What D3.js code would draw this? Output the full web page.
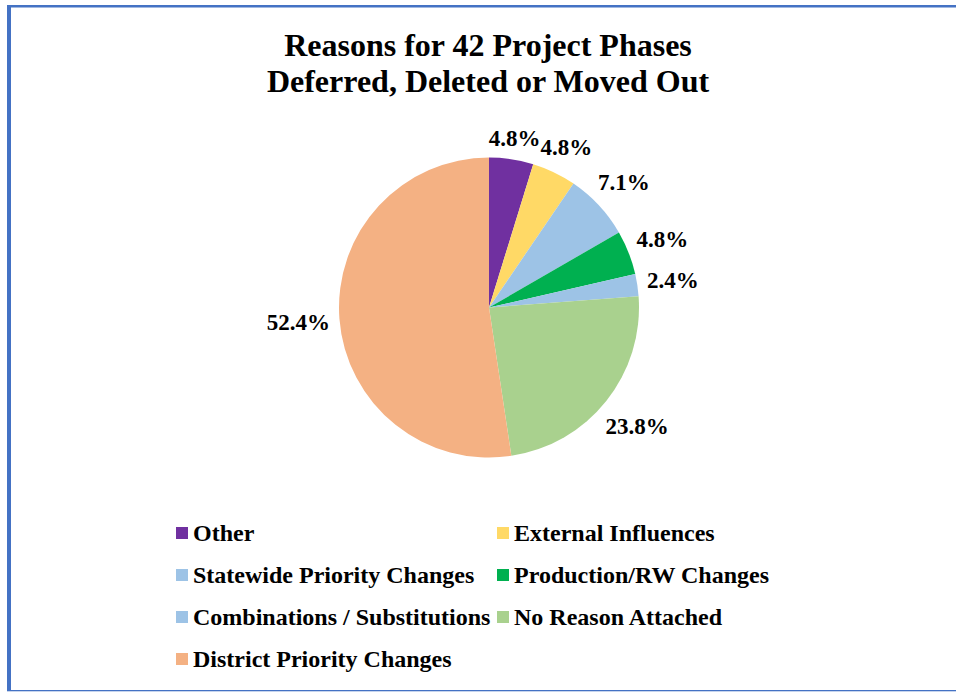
<!DOCTYPE html>
<html>
<head>
<meta charset="utf-8">
<script src="https://cdn.jsdelivr.net/npm/d3@7"></script>
<style>
html,body{margin:0;padding:0;background:#fff;}
svg{display:block;}
text{font-family:"Liberation Serif","Times New Roman",serif;font-weight:bold;fill:#000;}
</style>
</head>
<body>
<svg id="chart" width="956" height="692"></svg>
<script>
const categories = ["Other","External Influences","Statewide Priority Changes","Production/RW Changes","Combinations / Substitutions","No Reason Attached","District Priority Changes"];
const counts = [2, 2, 3, 2, 1, 10, 22];
const percentLabels = ["4.8%","4.8%","7.1%","4.8%","2.4%","23.8%","52.4%"];
const colors = ["#7030A0","#FFD966","#9DC3E6","#00B050","#9DC3E6","#A9D18E","#F4B183"];
const titleLines = ["Reasons for 42 Project Phases","Deferred, Deleted or Moved Out"];

const W = 956, H = 692;
const svg = d3.select("#chart");

// frame
svg.append("rect").attr("x",7).attr("y",5).attr("width",4).attr("height",686).attr("fill","#4472C4");
svg.append("rect").attr("x",7).attr("y",5).attr("width",W-7).attr("height",2.5).attr("fill","#4472C4");
svg.append("rect").attr("x",7).attr("y",690).attr("width",W-7).attr("height",1.3).attr("fill","#4472C4");

// title
svg.append("g").selectAll("text").data(titleLines).join("text")
  .attr("x",488).attr("y",(d,i)=>56+i*36)
  .attr("text-anchor","middle").style("font-size","32px").text(d=>d);

// pie
const cx = 489, cy = 307.5, r = 150;
const pie = d3.pie().sort(null).value(d=>d)(counts);
const arc = d3.arc().innerRadius(0).outerRadius(r);
const g = svg.append("g").attr("transform",`translate(${cx},${cy})`);
g.selectAll("path").data(pie).join("path")
  .attr("d",arc).attr("fill",(d,i)=>colors[i]);

// labels outside end
const labels = g.selectAll("text.lbl").data(pie).join("text")
  .attr("class","lbl").style("font-size","23px")
  .attr("text-anchor","middle")
  .text((d,i)=>percentLabels[i]);
labels.each(function(d){
  const bb = this.getBBox();
  const a = (d.startAngle+d.endAngle)/2;
  const ux = Math.sin(a), uy = -Math.cos(a);
  const gap = 9;
  const ext = bb.width/2*Math.abs(ux) + 9*Math.abs(uy);
  const dist = r + gap + ext;
  d3.select(this).attr("x", ux*dist).attr("y", uy*dist + 8);
});

// legend
const legendX = [176, 497], rowY0 = 541, rowStep = 42;
const lg = svg.append("g").selectAll("g").data(categories).join("g")
  .attr("transform",(d,i)=>`translate(${legendX[i%2]},${rowY0 + Math.floor(i/2)*rowStep})`);
lg.append("rect").attr("x",0).attr("y",-14).attr("width",12).attr("height",12)
  .attr("fill",(d,i)=>colors[i]);
lg.append("text").attr("x",17).attr("y",0).style("font-size","24px").text(d=>d);
</script>
</body>
</html>
